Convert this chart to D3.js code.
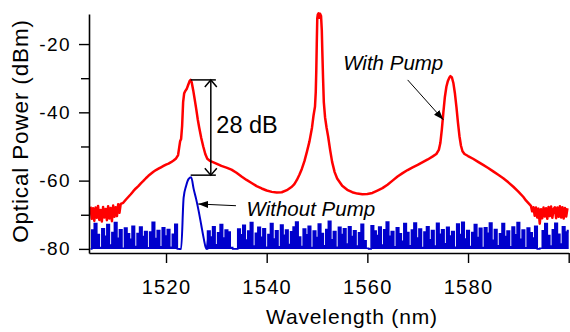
<!DOCTYPE html>
<html>
<head>
<meta charset="utf-8">
<script src="https://cdn.jsdelivr.net/npm/d3@7"></script>
<style>
  html, body { margin: 0; padding: 0; background: #fff; }
  svg { display: block; }
  text { font-family: "Liberation Sans", Arial, sans-serif; fill: #000; }
</style>
</head>
<body>
<svg id="chart" width="570" height="332"></svg>
<script>
// "With Pump" spectrum: [wavelength nm, power dBm]
const withPump = [
  [1505.0,-67.6],[1505.25,-71.2],[1505.5,-68.1],[1505.75,-71.8],[1506.0,-67.9],[1506.25,-70.9],
  [1506.5,-67.4],[1506.75,-71.5],[1507.0,-68.6],[1507.25,-72.0],[1507.5,-67.7],[1507.75,-70.8],
  [1508.0,-68.3],[1508.25,-71.6],[1508.5,-67.5],[1508.75,-71.1],[1509.0,-68.0],[1509.25,-71.9],
  [1509.5,-67.3],[1509.75,-70.6],[1510.0,-67.8],[1510.25,-70.4],[1510.5,-66.9],[1510.75,-69.4],
  [1511.0,-66.8],[1511.5,-66.5],[1512.0,-65.6],[1512.5,-64.8],[1513.0,-64.0],[1513.5,-63.1],
  [1514.0,-62.3],[1514.5,-61.6],[1515.0,-60.8],[1515.5,-60.1],[1516.0,-59.3],[1516.5,-58.6],
  [1517.0,-58.0],[1517.5,-57.4],[1518.0,-56.9],[1518.5,-56.5],[1519.0,-56.1],[1519.5,-55.7],
  [1520.0,-55.3],[1520.5,-55.0],[1521.0,-54.6],[1521.5,-54.1],[1522.0,-53.5],[1522.4,-52.5],
  [1522.6,-50.5],[1522.8,-48.5],[1523.0,-47.8],[1523.2,-44.0],[1523.4,-37.0],[1523.6,-34.5],
  [1523.8,-33.8],[1524.1,-33.2],[1524.4,-32.0],[1524.7,-30.8],[1524.9,-30.5],[1525.1,-31.2],
  [1525.4,-33.5],[1525.7,-36.2],[1526.0,-39.0],[1526.3,-42.0],[1526.6,-44.5],[1527.0,-47.5],
  [1527.4,-50.0],[1527.8,-52.2],[1528.2,-53.6],[1528.7,-54.2],[1529.2,-54.5],[1530.0,-55.0],
  [1531.0,-55.7],[1532.0,-56.2],[1533.0,-56.8],[1534.0,-57.7],[1535.0,-58.8],[1536.0,-59.8],
  [1537.0,-60.7],[1538.0,-61.6],[1539.0,-62.3],[1540.0,-62.9],[1541.0,-63.3],[1542.0,-63.5],
  [1543.0,-63.4],[1544.0,-62.8],[1545.0,-61.8],[1545.5,-61.0],[1546.0,-59.8],[1546.5,-58.3],
  [1547.0,-56.5],[1547.5,-54.3],[1548.0,-51.5],[1548.5,-48.5],[1549.0,-44.5],[1549.3,-41.0],
  [1549.6,-38.3],[1549.75,-34.0],[1549.85,-28.0],[1549.95,-20.0],[1550.05,-12.5],[1550.15,-11.4],
  [1550.3,-11.0],[1550.45,-12.3],[1550.6,-11.1],[1550.8,-11.8],[1550.95,-16.0],[1551.05,-22.0],
  [1551.2,-30.0],[1551.35,-37.0],[1551.6,-41.5],[1551.9,-44.5],[1552.2,-47.0],[1552.6,-51.0],
  [1553.0,-54.5],[1553.5,-57.5],[1554.0,-59.4],[1555.0,-61.5],[1556.0,-62.7],[1557.0,-63.4],
  [1558.0,-63.8],[1559.0,-64.0],[1560.0,-63.9],[1561.0,-63.6],[1562.0,-62.9],[1563.0,-62.2],
  [1564.0,-61.2],[1565.0,-60.0],[1566.0,-58.8],[1567.0,-57.8],[1568.0,-56.9],[1569.0,-56.1],
  [1570.0,-55.4],[1571.0,-54.6],[1572.0,-53.8],[1573.0,-52.9],[1573.7,-52.2],[1574.2,-51.0],
  [1574.5,-49.0],[1574.8,-45.0],[1575.1,-40.0],[1575.4,-35.5],[1575.7,-32.5],[1576.0,-30.8],
  [1576.3,-29.8],[1576.5,-29.4],[1576.8,-29.8],[1577.1,-31.5],[1577.4,-34.5],[1577.7,-38.5],
  [1578.0,-43.0],[1578.3,-47.0],[1578.6,-49.8],[1578.9,-51.4],[1579.3,-52.2],[1580.0,-52.8],
  [1581.0,-53.6],[1582.0,-54.5],[1583.0,-55.4],[1584.0,-56.3],[1585.0,-57.3],[1586.0,-58.3],
  [1587.0,-59.3],[1588.0,-60.5],[1589.0,-61.8],[1590.0,-63.2],[1591.0,-64.8],[1591.5,-65.8],
  [1592.0,-66.6],[1592.5,-67.4],[1592.75,-69.0],[1593.0,-67.8],[1593.25,-70.3],[1593.5,-67.9],
  [1593.75,-70.8],[1594.0,-68.2],[1594.25,-72.6],[1594.5,-68.4],[1594.75,-71.0],[1595.0,-67.9],
  [1595.25,-70.5],[1595.5,-68.1],[1595.75,-71.2],[1596.0,-67.7],[1596.25,-70.4],[1596.5,-67.6],
  [1596.75,-70.9],[1597.0,-68.3],[1597.25,-67.8],[1597.5,-71.0],[1597.75,-67.9],[1598.0,-70.6],
  [1598.25,-67.5],[1598.5,-70.8],[1598.75,-67.8],[1599.0,-71.1],[1599.25,-68.0],[1599.5,-70.5],
  [1599.75,-68.1]
];

// "Without Pump" spectrum, sampled every 0.5 nm from 1505 nm
const withoutStart = 1505;
const withoutStep = 0.5;
const withoutPump = [
  -80,-74.5,-72.6,-75.8,-79.6,-74.1,-76.3,-72.9,-78.9,-75.2,
  -72.3,-76.9,-74.4,-79.8,-73.9,-75.6,-77.2,-73.4,-79.3,-75.5,
  -73.6,-76.4,-74.9,-79.7,-75.1,-72.2,-77,-74.6,-79.4,-73.8,
  -76.2,-74.3,-79.5,-75.7,-72.8,-80,-80,-65,-61.5,-59.5,
  -59,-62.5,-65.5,-69,-73,-77,-80,-74.8,-76.5,-73.5,
  -78.8,-75.3,-72.9,-76.8,-74.5,-75.1,-79.6,-80,-80,-74.2,
  -75.9,-73.1,-77.4,-74.8,-72.3,-79.2,-75.4,-73.7,-76.6,-74.1,
  -79.5,-75.8,-72.6,-77.1,-74.7,-79.4,-73,-76,-74.5,-78.7,
  -75,-73.6,-72.1,-76.5,-79.3,-74.2,-75.9,-73.4,-79.6,-74.8,
  -76.7,-72.7,-75.5,-79.1,-74.3,-71.9,-77.3,-74.9,-79.5,-73.7,
  -75.8,-74.1,-78.6,-73.5,-76.4,-74.7,-79.2,-75.3,-72.8,-77.6,
  -79.8,-80,-73.2,-74.8,-76.1,-73.6,-78.9,-74.4,-72.1,-76.3,
  -74.9,-79.4,-73.8,-75.6,-77.8,-72.6,-75.2,-79.1,-74.5,-72.4,
  -76.8,-74.2,-79.6,-75.1,-73.5,-77.3,-74.6,-79.2,-72.5,-75.7,
  -74.4,-78.5,-73.7,-76.2,-74.9,-79.5,-72.7,-75.8,-72.2,-77.1,
  -74.6,-79.3,-75.2,-72.9,-76.7,-74,-79.6,-73.8,-75.4,-72.4,
  -77.5,-74.3,-79.1,-75.6,-72.6,-76.4,-74.8,-79.4,-73.6,-75.9,
  -72.3,-77.2,-74.5,-79.7,-73.9,-75.3,-76.8,-73.4,-80,-79.8,
  -74.7,-72.6,-76.1,-79.2,-74.4,-72.5,-75.7,-78.6,-73.5,-75.1,
  -74.6
];

const xMajorTicks = [1520, 1540, 1560, 1580, 1600];
const xTickLabels = ["1520", "1540", "1560", "1580", ""];
const yMajorTicks = [-80, -60, -40, -20];
const yMinorTicks = [-70, -50, -30];

const svg = d3.select("#chart");
const plot = {left: 89, right: 568.7, top: 14, bottom: 253};

const x = d3.scaleLinear().domain([1504.7, 1600]).range([plot.left, plot.right]);
const y = d3.scaleLinear().domain([-81.2, -11.2]).range([plot.bottom, plot.top]);

const withoutPts = withoutPump.map((v, i) => [withoutStart + i * withoutStep, v]);
const inPeak = d => d[0] > 1523 && d[0] < 1528;

// blue trace: dense noise floor drawn filled, the peak itself only as a line
svg.append("path")
  .datum(withoutPts)
  .attr("fill", "#0000cc")
  .attr("d", d3.area()
    .defined(d => !inPeak(d))
    .curve(d3.curveStep)
    .x(d => x(d[0])).y0(y(-80)).y1(d => y(d[1])));
svg.append("path")
  .datum(withoutPts)
  .attr("fill", "none")
  .attr("stroke", "#0000cc")
  .attr("stroke-width", 1.6)
  .attr("d", d3.line().defined(d => !inPeak(d)).curve(d3.curveStep)
    .x(d => x(d[0])).y(d => y(d[1])));
svg.append("path")
  .datum(withoutPts.filter(d => d[0] >= 1522.5 && d[0] <= 1528.5))
  .attr("fill", "none")
  .attr("stroke", "#0000cc")
  .attr("stroke-width", 2)
  .attr("stroke-linejoin", "round")
  .attr("d", d3.line().curve(d3.curveMonotoneX).x(d => x(d[0])).y(d => y(d[1])));

// red trace
svg.append("path")
  .datum(withPump)
  .attr("fill", "none")
  .attr("stroke", "#ff0000")
  .attr("stroke-width", 2.5)
  .attr("stroke-linejoin", "round")
  .attr("d", d3.line().x(d => x(d[0])).y(d => y(d[1])));

// axes
const xAxis = svg.append("g")
  .attr("transform", "translate(0," + plot.bottom + ")")
  .call(d3.axisBottom(x).tickValues(xMajorTicks)
    .tickFormat((d, i) => xTickLabels[i]).tickSize(10).tickSizeOuter(0).tickPadding(17));

const yAxis = svg.append("g")
  .attr("transform", "translate(" + plot.left + ",0)")
  .call(d3.axisLeft(y).tickValues(yMajorTicks)
    .tickFormat(d => String(d)).tickSize(10).tickSizeOuter(0).tickPadding(8));

svg.append("g")
  .attr("transform", "translate(" + plot.left + ",0)")
  .call(d3.axisLeft(y).tickValues(yMinorTicks).tickFormat("").tickSize(8).tickSizeOuter(0))
  .select(".domain").remove();

svg.selectAll(".domain").attr("stroke", "#000").attr("stroke-width", 1.6);
svg.selectAll(".tick line").attr("stroke", "#000").attr("stroke-width", 1.4);
xAxis.selectAll(".tick text")
  .style("font-size", "20px").style("letter-spacing", "1.3px")
  .attr("font-family", null);
yAxis.selectAll(".tick text")
  .style("font-size", "19px").style("letter-spacing", "1.4px")
  .attr("font-family", null);
svg.selectAll(".tick text").attr("fill", "#000");

// axis titles
svg.append("text")
  .attr("x", 352).attr("y", 324)
  .attr("text-anchor", "middle")
  .style("font-size", "21px").style("letter-spacing", "0.85px")
  .text("Wavelength (nm)");

svg.append("text")
  .attr("transform", "translate(28,131) rotate(-90)")
  .attr("text-anchor", "middle")
  .style("font-size", "22.5px").style("letter-spacing", "0.85px")
  .text("Optical Power (dBm)");

// annotations
const defs = svg.append("defs");
defs.append("marker")
  .attr("id", "head")
  .attr("viewBox", "0 0 10 10")
  .attr("refX", 10).attr("refY", 5)
  .attr("markerWidth", 10).attr("markerHeight", 10)
  .attr("markerUnits", "userSpaceOnUse")
  .attr("orient", "auto")
  .append("path").attr("d", "M0,1.5 L10,5 L0,8.5 Z").attr("fill", "#000");

// 28 dB gap between pumped idler peak and unpumped peak
const gapTop = -30.5, gapBottom = -58.4;
const bracketFrom = 1524.9, bracketTo = 1529.9, arrowAt = 1528.9;
const ann = svg.append("g").attr("stroke", "#000").attr("stroke-width", 1.5).attr("fill", "none");
[gapTop, gapBottom].forEach(v => {
  ann.append("line")
    .attr("x1", x(bracketFrom)).attr("x2", x(bracketTo))
    .attr("y1", y(v)).attr("y2", y(v));
});
ann.append("line")
  .attr("x1", x(arrowAt)).attr("x2", x(arrowAt))
  .attr("y1", y(gapTop)).attr("y2", y(gapBottom));
const ax = x(arrowAt);
ann.append("path").attr("d", `M${ax - 6},${y(gapTop) + 7} L${ax},${y(gapTop)} L${ax + 6},${y(gapTop) + 7}`);
ann.append("path").attr("d", `M${ax - 6},${y(gapBottom) - 7} L${ax},${y(gapBottom)} L${ax + 6},${y(gapBottom) - 7}`);

svg.append("text")
  .attr("x", x(1530)).attr("y", y(-46.1))
  .style("font-size", "23.5px")
  .text("28 dB");

// "With Pump" label and arrow
svg.append("text")
  .attr("x", x(1555.2)).attr("y", y(-27.6))
  .style("font-size", "20.5px").style("font-style", "italic")
  .text("With Pump");
svg.append("line")
  .attr("x1", x(1568.0)).attr("y1", y(-30.5))
  .attr("x2", x(1575.1)).attr("y2", y(-42.2))
  .attr("stroke", "#000").attr("stroke-width", 1)
  .attr("marker-end", "url(#head)");

// "Without Pump" label and arrow
svg.append("text")
  .attr("x", x(1536.0)).attr("y", y(-70.4))
  .style("font-size", "20.5px").style("font-style", "italic")
  .text("Without Pump");
svg.append("line")
  .attr("x1", x(1533.9)).attr("y1", y(-67.35))
  .attr("x2", x(1526.4)).attr("y2", y(-66.85))
  .attr("stroke", "#000").attr("stroke-width", 1)
  .attr("marker-end", "url(#head)");
</script>
</body>
</html>
